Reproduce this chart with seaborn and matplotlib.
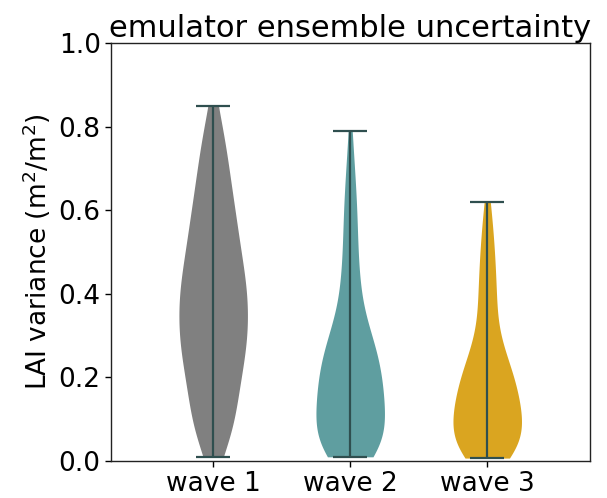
import numpy as np
import pandas as pd
import matplotlib
matplotlib.use("Agg")
import matplotlib.pyplot as plt
import seaborn as sns

categories = ["wave 1", "wave 2", "wave 3"]
colors = ["#808080", "#5f9ea0", "#daa520"]

wave1 = [0.010, 0.019, 0.028, 0.037, 0.046,
         0.053, 0.060, 0.067, 0.074, 0.081, 0.088, 0.095,
         0.102, 0.108, 0.114, 0.120, 0.126, 0.132, 0.138, 0.144,
         0.152, 0.157, 0.163, 0.168, 0.174, 0.179, 0.185, 0.190, 0.196,
         0.202, 0.207, 0.212, 0.217, 0.222, 0.227, 0.232, 0.237, 0.242, 0.247,
         0.252, 0.256, 0.260, 0.264, 0.268, 0.272, 0.276, 0.280, 0.284, 0.288, 0.292, 0.296,
         0.302, 0.306, 0.310, 0.314, 0.318, 0.322, 0.326, 0.330, 0.334, 0.338, 0.342, 0.346,
         0.352, 0.356, 0.360, 0.364, 0.368, 0.372, 0.376, 0.380, 0.384, 0.388, 0.392, 0.396,
         0.402, 0.406, 0.410, 0.414, 0.418, 0.422, 0.426, 0.430, 0.434, 0.438, 0.442, 0.446,
         0.452, 0.457, 0.462, 0.467, 0.472, 0.477, 0.482, 0.487, 0.492, 0.497,
         0.503, 0.508, 0.514, 0.519, 0.525, 0.530, 0.536, 0.541, 0.547,
         0.553, 0.559, 0.565, 0.571, 0.577, 0.583, 0.589, 0.595,
         0.603, 0.610, 0.617, 0.624, 0.631, 0.638, 0.645,
         0.654, 0.662, 0.671, 0.679, 0.688, 0.696,
         0.705, 0.715, 0.725, 0.735, 0.745,
         0.757, 0.769, 0.781, 0.793,
         0.812, 0.831, 0.850]
wave2 = [0.010, 0.011, 0.012, 0.014, 0.016, 0.018, 0.020, 0.022, 0.025, 0.027, 0.030,
         0.033, 0.037, 0.040, 0.044, 0.047, 0.051, 0.054, 0.058, 0.061, 0.065, 0.068,
         0.072, 0.076, 0.080, 0.084, 0.088, 0.092, 0.096, 0.100, 0.104, 0.108, 0.112, 0.116,
         0.120, 0.124, 0.128, 0.132, 0.136, 0.140, 0.144, 0.148, 0.152, 0.156, 0.160, 0.164,
         0.168, 0.172, 0.176, 0.180, 0.184, 0.188, 0.192, 0.196, 0.200, 0.204, 0.208, 0.212, 0.216,
         0.221, 0.225, 0.230, 0.234, 0.239, 0.243, 0.248, 0.252, 0.257, 0.261, 0.266, 0.271, 0.276,
         0.282, 0.288, 0.293, 0.299, 0.305, 0.311, 0.317,
         0.324, 0.333, 0.343, 0.354,
         0.365, 0.378, 0.391, 0.404, 0.417, 0.430, 0.443,
         0.458, 0.476, 0.494, 0.512, 0.530, 0.548,
         0.566, 0.586, 0.606, 0.626, 0.646,
         0.672, 0.702, 0.735,
         0.790]
wave3 = [0.007, 0.008, 0.010, 0.012, 0.014, 0.017, 0.020, 0.023, 0.026, 0.030,
         0.034, 0.038, 0.042, 0.046, 0.050, 0.054, 0.058, 0.062, 0.066, 0.070,
         0.074, 0.078, 0.082, 0.086, 0.090, 0.094, 0.098, 0.102, 0.106, 0.110, 0.114, 0.118,
         0.122, 0.127, 0.131, 0.136, 0.140, 0.145, 0.149, 0.154, 0.158, 0.163, 0.168,
         0.172, 0.177, 0.182, 0.187, 0.192, 0.197, 0.202, 0.207, 0.212, 0.217,
         0.223, 0.230, 0.237, 0.244, 0.251, 0.258, 0.266,
         0.276, 0.288, 0.300, 0.313,
         0.327, 0.343, 0.360,
         0.376, 0.391, 0.406, 0.421, 0.437,
         0.455, 0.474, 0.493, 0.512, 0.531,
         0.556, 0.588, 0.620]
series = [wave1, wave2, wave3]

df = pd.DataFrame({
    "wave": np.concatenate([[c] * len(s) for c, s in zip(categories, series)]),
    "value": np.concatenate(series),
})

sns.set_theme(style="ticks")
plt.rcParams["font.family"] = ["DejaVu Sans"]
for k in ["text.color", "axes.labelcolor", "xtick.color", "ytick.color"]:
    plt.rcParams[k] = "black"

fig = plt.figure(figsize=(6.07, 4.98), dpi=100)
ax = fig.add_axes([0.183, 0.0743, 0.789, 0.8394])

sns.violinplot(data=df, x="wave", y="value", hue="wave", palette=colors,
               order=categories, hue_order=categories, legend=False,
               inner=None, cut=0, width=0.5, density_norm="width",
               bw_adjust=0.85, gridsize=200,
               linewidth=0, saturation=1, ax=ax)

line_color = "#2f4f4f"
for i, s in enumerate(series):
    lo, hi = min(s), max(s)
    ax.vlines(i, lo, hi, color=line_color, lw=1.6, zorder=3)
    ax.hlines([lo, hi], i - 0.125, i + 0.125, color=line_color, lw=1.6, zorder=3)

ax.set_xlim(-0.745, 2.75)
ax.set_ylim(0, 1.0)
ax.set_yticks([0.0, 0.2, 0.4, 0.6, 0.8, 1.0])
ax.set_xlabel("")
ax.set_ylabel("LAI variance (m$^2$/m$^2$)", fontsize=19)
ax.set_title("emulator ensemble uncertainty", fontsize=22, pad=4)
ax.tick_params(labelsize=19, length=4, width=1, color="black")
for sp in ax.spines.values():
    sp.set_visible(True)
    sp.set_color("#222222")
    sp.set_linewidth(1.0)

fig.savefig("out.png", dpi=100)
